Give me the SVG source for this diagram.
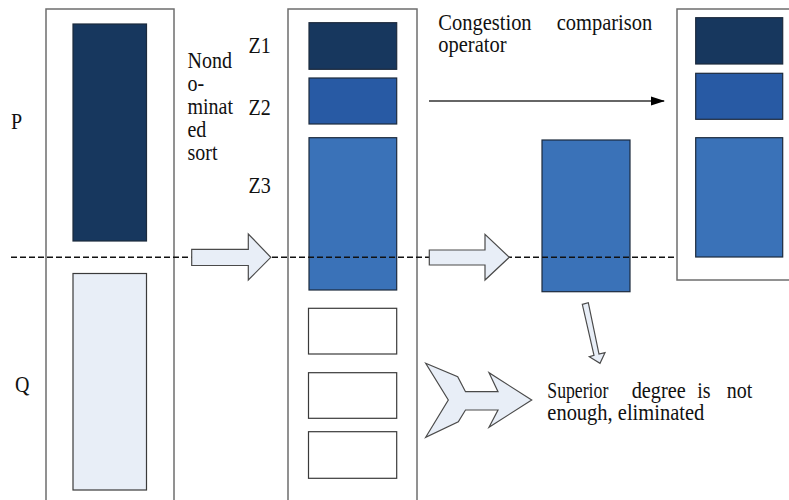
<svg xmlns="http://www.w3.org/2000/svg" width="789" height="500" viewBox="0 0 789 500">
  <style>
    .frame { fill: #ffffff; stroke: #6e6e6e; stroke-width: 1.5; }
    .dark { fill: #17375e; stroke: #1c2a3c; stroke-width: 1.2; }
    .mid { fill: #285aa4; stroke: #1c2a3c; stroke-width: 1.2; }
    .lite { fill: #3a72b8; stroke: #1c2a3c; stroke-width: 1.2; }
    .pale { fill: #e8eef7; stroke: #3a3a3a; stroke-width: 1.2; }
    .empty { fill: #ffffff; stroke: #3a3a3a; stroke-width: 1.2; }
    .block { fill: #e8eef7; stroke: #4a4a4a; stroke-width: 1.2; stroke-linejoin: miter; }
    .dash { fill: none; stroke: #111111; stroke-width: 1.5; stroke-dasharray: 6 3; }
    .line { fill: none; stroke: #333333; stroke-width: 1.3; }
  </style>
  <defs>
    <marker id="tri" markerWidth="14" markerHeight="10" refX="13" refY="5" orient="auto" markerUnits="userSpaceOnUse">
      <path d="M0,0.5 L14,5 L0,9.5 Z" fill="#000000"/>
    </marker>
  </defs>

  <!-- population column P+Q -->
  <g id="col-pq">
    <rect class="frame" x="46" y="9" width="128" height="520"/>
    <rect class="dark" x="73" y="24" width="73.5" height="217"/>
    <rect class="pale" x="73" y="273.5" width="73.5" height="216.5"/>
  </g>

  <!-- sorted fronts Z1..Z3 and the rest -->
  <g id="col-sorted">
    <rect class="frame" x="288" y="9" width="129" height="520"/>
    <rect class="dark" x="309" y="22.7" width="87.7" height="46.6"/>
    <rect class="mid" x="309" y="78" width="87.7" height="46"/>
    <rect class="lite" x="309" y="137.7" width="87.7" height="152.3"/>
    <rect class="empty" x="308.5" y="308.3" width="88.2" height="45.7"/>
    <rect class="empty" x="308.5" y="372.7" width="88.2" height="45.6"/>
    <rect class="empty" x="308.5" y="431.7" width="88.2" height="46.6"/>
  </g>

  <!-- front Z3 taken out for crowding comparison -->
  <g id="z3-split">
    <rect class="lite" x="542" y="140" width="88" height="151.7"/>
  </g>

  <!-- next population -->
  <g id="col-next">
    <rect class="frame" x="677" y="9" width="130" height="271"/>
    <rect class="dark" x="695.7" y="17.7" width="87" height="46.3"/>
    <rect class="mid" x="695.7" y="73.3" width="87" height="46"/>
    <rect class="lite" x="695.7" y="137.7" width="87" height="119.3"/>
  </g>

  <!-- connectors -->
  <g id="connectors">
    <line class="dash" x1="11" y1="257.3" x2="677" y2="257.3"/>
    <line class="line" x1="429" y1="101" x2="664" y2="101" marker-end="url(#tri)"/>
    <polygon class="block" points="191.7,249.3 248.3,249.3 248.3,234 270.8,257.3 248.3,280 248.3,265.5 191.7,265.5"/>
    <polygon class="block" points="429.3,250 485,250 485,234.3 509.3,257.3 485,280 485,265 429.3,265"/>
    <polygon class="block" points="582.3,304.3 588.3,302.7 599,354 605,352.7 600,363.3 589.3,356.7 594,355.3"/>
    <polygon class="block" points="425.7,363.3 457.7,376.7 465.5,391.7 498,391.7 489,372.7 531.7,400 489,427.3 498,410 465.5,410 458.3,421.7 425.7,437.3 448.3,400"/>
  </g>

  <!-- labels: serif text, slightly stretched vertically; each line sits on its own baseline -->
  <g id="labels" font-family="Liberation Serif, serif" font-size="20" fill="#111111">
    <text transform="matrix(1 0 0 1.15 11 129)">P</text>
    <text transform="matrix(1 0 0 1.15 15 392)">Q</text>
    <text transform="matrix(1 0 0 1.15 248.5 53)">Z1</text>
    <text transform="matrix(1 0 0 1.15 248.5 115)">Z2</text>
    <text transform="matrix(1 0 0 1.15 248.5 192.5)">Z3</text>

    <text transform="matrix(1 0 0 1.12 187.5 68)">Nond</text>
    <text transform="matrix(1 0 0 1.12 187.5 91)">o-</text>
    <text transform="matrix(1 0 0 1.12 187.5 114)">minat</text>
    <text transform="matrix(1 0 0 1.12 187.5 137)">ed</text>
    <text transform="matrix(1 0 0 1.12 187.5 160)">sort</text>

    <text font-size="20.5" transform="matrix(1 0 0 1.1 0 30)"><tspan x="438.3" y="0">Congestion</tspan><tspan x="556.7" y="0">comparison</tspan></text>
    <text font-size="20.5" transform="matrix(1 0 0 1.1 438.3 52)">operator</text>

    <text transform="matrix(1 0 0 1.15 0 398)"><tspan x="547.3" y="0" textLength="61" lengthAdjust="spacingAndGlyphs">Superior</tspan><tspan x="631.7" y="0" textLength="54" lengthAdjust="spacingAndGlyphs">degree</tspan><tspan x="697.3" y="0">is</tspan><tspan x="726.7" y="0">not</tspan></text>
    <text transform="matrix(1 0 0 1.15 547.3 420)" textLength="157" lengthAdjust="spacingAndGlyphs">enough, eliminated</text>
  </g>
</svg>
